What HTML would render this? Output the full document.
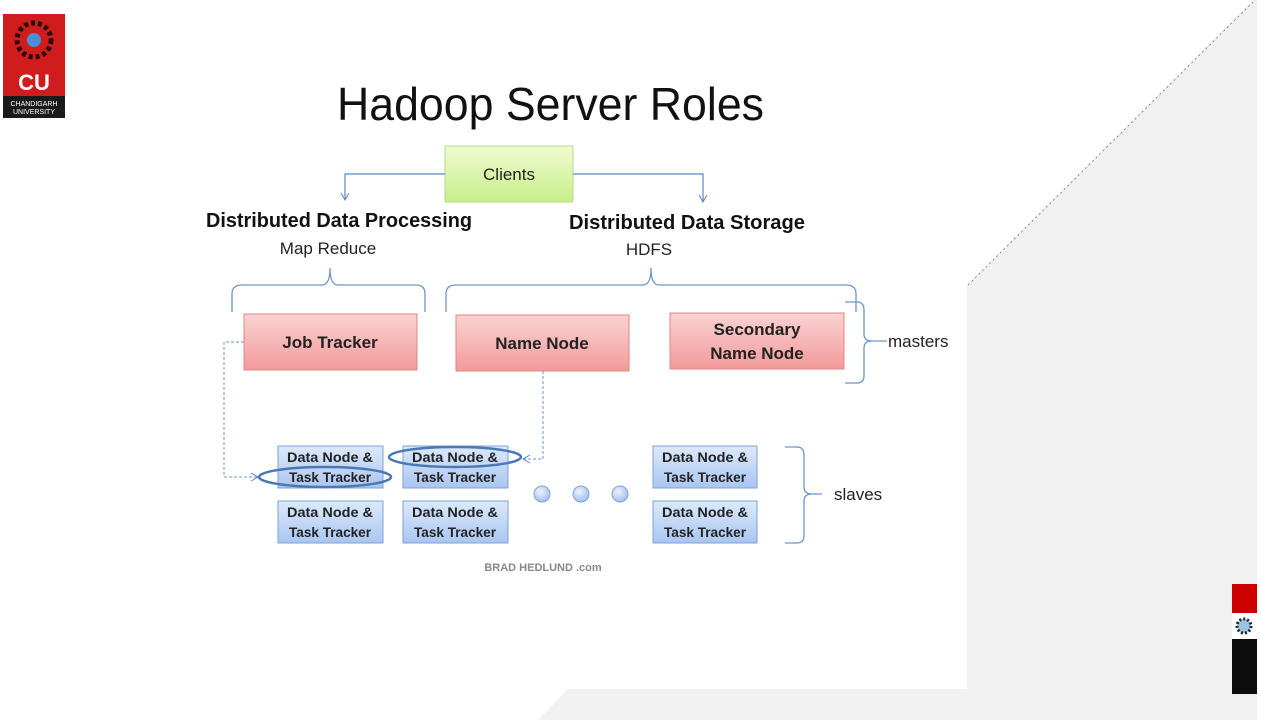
<!DOCTYPE html>
<html><head><meta charset="utf-8"><style>
html,body{margin:0;padding:0;background:#fff;}
svg{display:block;font-family:"Liberation Sans",sans-serif;}
</style></head><body>
<svg width="1261" height="720" viewBox="0 0 1261 720" xmlns="http://www.w3.org/2000/svg">
<defs>
<linearGradient id="g" x1="0" y1="0" x2="0" y2="1"><stop offset="0" stop-color="#f0fbd0"/><stop offset="1" stop-color="#c8ee8a"/></linearGradient>
<linearGradient id="r" x1="0" y1="0" x2="0" y2="1"><stop offset="0" stop-color="#fbd3d3"/><stop offset="1" stop-color="#f29a9a"/></linearGradient>
<linearGradient id="b" x1="0" y1="0" x2="0" y2="1"><stop offset="0" stop-color="#dce9fb"/><stop offset="1" stop-color="#a9c6f1"/></linearGradient>
<radialGradient id="d" cx="0.4" cy="0.35" r="0.7"><stop offset="0" stop-color="#eef4fd"/><stop offset="1" stop-color="#9dbbe8"/></radialGradient>
<marker id="a" markerWidth="10" markerHeight="10" refX="8" refY="5" orient="auto" markerUnits="userSpaceOnUse"><path d="M1,1 L8,5 L1,9" fill="none" stroke="#5b86bf" stroke-width="1"/></marker>
</defs>
<polygon points="967,285 1253,0 1257,0 1257,720 538,720 568,689 967,689" fill="#f1f1f1"/>
<line x1="968" y1="285" x2="1253" y2="2" stroke="#777" stroke-width="0.8" stroke-dasharray="2,3"/>
<!-- logo -->
<rect x="3" y="14" width="62" height="82" fill="#d01c1c"/>
<rect x="3" y="96" width="62" height="22" fill="#1a1a1a"/>
<circle cx="34" cy="40" r="17" fill="none" stroke="#2a0c0c" stroke-width="5" stroke-dasharray="4,3"/>
<circle cx="34" cy="40" r="7" fill="#4a8fd8"/>
<text x="34" y="90" font-size="22" font-weight="bold" fill="#fff" text-anchor="middle">CU</text>
<text x="34" y="106" font-size="7" fill="#fff" text-anchor="middle">CHANDIGARH</text>
<text x="34" y="114" font-size="7" fill="#fff" text-anchor="middle">UNIVERSITY</text>
<rect x="1232" y="584" width="25" height="29" fill="#cc0000"/>
<rect x="1232" y="613" width="25" height="26" fill="#fff"/>
<circle cx="1244" cy="626" r="7" fill="#9cc3e0" stroke="#222" stroke-width="3" stroke-dasharray="2,2"/>
<rect x="1232" y="639" width="25" height="55" fill="#0c0c0c"/>
<text x="337" y="120" font-size="46" fill="#111" textLength="427" lengthAdjust="spacingAndGlyphs">Hadoop Server Roles</text>
<rect x="445" y="146" width="128" height="56" fill="url(#g)" stroke="#b8d88a"/>
<text x="509" y="180" font-size="17" text-anchor="middle" fill="#222">Clients</text>
<path d="M445,174 H345 V200" fill="none" stroke="#5b86bf" stroke-width="1.2" marker-end="url(#a)"/>
<path d="M573,174 H703 V202" fill="none" stroke="#5b86bf" stroke-width="1.2" marker-end="url(#a)"/>
<text x="339" y="227" font-size="20" font-weight="bold" text-anchor="middle" fill="#111" textLength="266" lengthAdjust="spacingAndGlyphs">Distributed Data Processing</text>
<text x="328" y="254" font-size="17" text-anchor="middle" fill="#222">Map Reduce</text>
<text x="687" y="229" font-size="20" font-weight="bold" text-anchor="middle" fill="#111" textLength="236" lengthAdjust="spacingAndGlyphs">Distributed Data Storage</text>
<text x="649" y="255" font-size="17" text-anchor="middle" fill="#222">HDFS</text>
<g fill="none" stroke="#6f94c6" stroke-width="1.3">
<path d="M232,312 V294 Q232,285 242,285 H322 Q330,285 330,268 Q330,285 338,285 H416 Q425,285 425,294 V312"/>
<path d="M446,312 V294 Q446,285 456,285 H643 Q651,285 651,268 Q651,285 659,285 H846 Q856,285 856,294 V312"/>
<path d="M845,302 H857 Q864,302 864,310 V334 Q864,341 872,341 H887 M872,341 Q864,341 864,348 V376 Q864,383 857,383 H845"/>
<path d="M785,447 H797 Q804,447 804,455 V487 Q804,494 812,494 H822 M812,494 Q804,494 804,501 V535 Q804,543 797,543 H785"/>
</g>
<text x="888" y="347" font-size="17" fill="#222">masters</text>
<text x="834" y="500" font-size="17" fill="#222">slaves</text>
<g font-size="17" font-weight="bold" fill="#222" text-anchor="middle">
<rect x="244" y="314" width="173" height="56" fill="url(#r)" stroke="#e08585"/>
<text x="330" y="348">Job Tracker</text>
<rect x="456" y="315" width="173" height="56" fill="url(#r)" stroke="#e08585"/>
<text x="542" y="349">Name Node</text>
<rect x="670" y="313" width="174" height="56" fill="url(#r)" stroke="#e08585"/>
<text x="757" y="335">Secondary</text>
<text x="757" y="359">Name Node</text>
</g>
<path d="M244,342 H224 V477 H258" fill="none" stroke="#6f94c6" stroke-width="1" stroke-dasharray="3,2" marker-end="url(#a)"/>
<path d="M543,371 V459 H523" fill="none" stroke="#6f94c6" stroke-width="1" stroke-dasharray="3,2" marker-end="url(#a)"/>
<g font-size="14" font-weight="bold" fill="#222" text-anchor="middle">
<rect x="278" y="446" width="105" height="42" fill="url(#b)" stroke="#7fa3d6"/>
<text x="330" y="462" textLength="86" lengthAdjust="spacingAndGlyphs">Data Node &amp;</text><text x="330" y="482" textLength="82" lengthAdjust="spacingAndGlyphs">Task Tracker</text>
<rect x="403" y="446" width="105" height="42" fill="url(#b)" stroke="#7fa3d6"/>
<text x="455" y="462" textLength="86" lengthAdjust="spacingAndGlyphs">Data Node &amp;</text><text x="455" y="482" textLength="82" lengthAdjust="spacingAndGlyphs">Task Tracker</text>
<rect x="653" y="446" width="104" height="42" fill="url(#b)" stroke="#7fa3d6"/>
<text x="705" y="462" textLength="86" lengthAdjust="spacingAndGlyphs">Data Node &amp;</text><text x="705" y="482" textLength="82" lengthAdjust="spacingAndGlyphs">Task Tracker</text>
<rect x="278" y="501" width="105" height="42" fill="url(#b)" stroke="#7fa3d6"/>
<text x="330" y="517" textLength="86" lengthAdjust="spacingAndGlyphs">Data Node &amp;</text><text x="330" y="537" textLength="82" lengthAdjust="spacingAndGlyphs">Task Tracker</text>
<rect x="403" y="501" width="105" height="42" fill="url(#b)" stroke="#7fa3d6"/>
<text x="455" y="517" textLength="86" lengthAdjust="spacingAndGlyphs">Data Node &amp;</text><text x="455" y="537" textLength="82" lengthAdjust="spacingAndGlyphs">Task Tracker</text>
<rect x="653" y="501" width="104" height="42" fill="url(#b)" stroke="#7fa3d6"/>
<text x="705" y="517" textLength="86" lengthAdjust="spacingAndGlyphs">Data Node &amp;</text><text x="705" y="537" textLength="82" lengthAdjust="spacingAndGlyphs">Task Tracker</text>
</g>
<ellipse cx="325" cy="477" rx="66" ry="10" fill="none" stroke="#4a78b5" stroke-width="2.5"/>
<ellipse cx="455" cy="457" rx="66" ry="10" fill="none" stroke="#4a78b5" stroke-width="2.5"/>
<circle cx="542" cy="494" r="8" fill="url(#d)" stroke="#7fa3d6"/>
<circle cx="581" cy="494" r="8" fill="url(#d)" stroke="#7fa3d6"/>
<circle cx="620" cy="494" r="8" fill="url(#d)" stroke="#7fa3d6"/>
<text x="543" y="571" font-size="11" font-weight="bold" fill="#888" text-anchor="middle">BRAD HEDLUND .com</text>
</svg>
</body></html>
